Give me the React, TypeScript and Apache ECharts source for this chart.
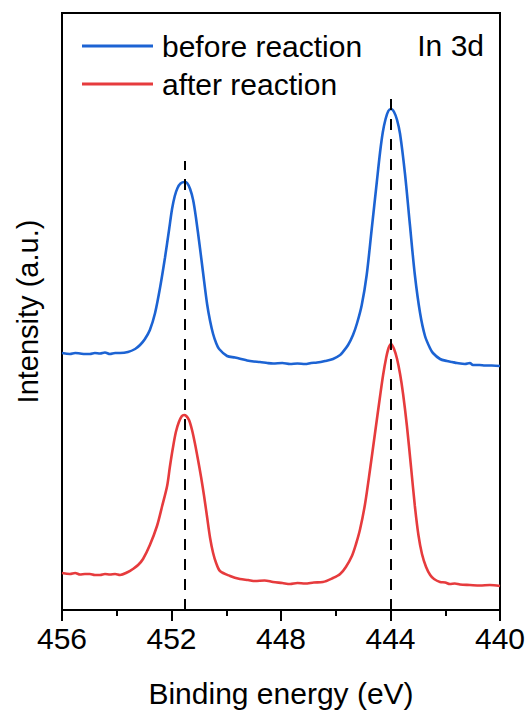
import React, { useEffect, useRef } from "react";
import * as echarts from "echarts";

// Binding energy (eV) and intensity (a.u.)
const energyBefore = [
  456.0, 455.71, 455.52, 455.34, 455.16, 454.98, 454.8, 454.61, 454.43, 454.25, 454.06, 453.88, 453.59, 453.33, 453.15,
  452.97, 452.79, 452.6, 452.42, 452.24, 452.09, 451.98, 451.88, 451.78, 451.67, 451.53, 451.43, 451.32, 451.21,
  451.11, 450.96, 450.85, 450.7, 450.59, 450.48, 450.37, 450.26, 449.97, 449.68, 449.45, 449.24, 449.0, 448.77, 448.5,
  448.29, 447.95, 447.67, 447.4, 447.12, 446.9, 446.68, 446.39, 446.1, 445.84, 445.74, 445.55, 445.37, 445.22,
  445.05, 444.87, 444.69, 444.5, 444.38, 444.28, 444.18, 444.08, 443.98, 443.87, 443.76, 443.65, 443.47, 443.29,
  443.11, 442.92, 442.74, 442.56, 442.45, 442.19, 441.94, 441.75, 441.57, 441.28, 441.1, 440.99, 440.75, 440.55,
  440.3, 440.0,
];
const intensityBefore = [
  257, 256, 257, 256.5, 256, 256, 257, 256.5, 257.5, 256, 257, 257, 258, 261, 265,
  271, 280, 297, 322, 352, 380, 401, 414, 422, 426.5, 428, 427, 421, 410,
  393, 362, 338, 306, 289, 276, 267, 261, 254, 252.5, 251, 249.5, 248.5, 248, 247,
  246.5, 247, 246, 246.5, 246, 247, 247.5, 249, 251, 255, 258, 265, 275, 287,
  305, 335, 380, 428, 458, 478, 491, 499, 501, 498, 490, 476, 436, 385,
  335, 297, 274, 262, 257, 251, 249, 248, 247, 246, 247, 245, 245, 244.5,
  244.5, 244,
];

const energyAfter = [
  456.0, 455.71, 455.52, 455.34, 455.16, 454.98, 454.8, 454.61, 454.43, 454.25, 454.06, 453.88, 453.59, 453.41, 453.22,
  453.04, 452.79, 452.53, 452.35, 452.16, 452.06, 451.95, 451.84, 451.73, 451.62, 451.54, 451.46, 451.36, 451.25,
  451.14, 451.03, 450.92, 450.81, 450.7, 450.59, 450.48, 450.37, 450.23, 449.86, 449.5, 449.2, 448.95, 448.6, 448.29,
  447.95, 447.67, 447.4, 447.12, 446.8, 446.47, 446.1, 445.84, 445.63, 445.41, 445.26, 445.11, 444.93, 444.75,
  444.57, 444.38, 444.27, 444.16, 444.07, 443.98, 443.87, 443.76, 443.65, 443.54, 443.4, 443.25, 443.11, 442.98,
  442.85, 442.7, 442.55, 442.41, 442.19, 442.0, 441.83, 441.65, 441.46, 441.1, 440.73, 440.37, 440.0,
];
const intensityAfter = [
  37, 36, 37, 35.5, 36, 36, 35, 35, 36, 35.5, 36, 35, 38, 41, 45,
  51, 65, 84, 103, 124, 143, 162, 178, 188, 194, 195, 194, 190, 180,
  166, 150, 133, 114, 93, 72, 57, 47, 39, 34, 31, 30, 29, 29.5, 28,
  27, 26, 27, 26.5, 27.5, 28, 32, 36, 43, 54, 66, 81, 106, 140,
  176, 214, 235, 252, 262, 266, 261, 251, 236, 216, 184, 143, 104, 75,
  56, 43, 35, 31, 28, 27.5, 26, 26.5, 25.5, 25, 24.5, 25, 24,
];

// Peak positions (dashed guides) and their upper ends
const peakPositions = [451.53, 443.98];
const peakGuideTops = [449, 516];

const xTickValues = [440, 444, 448, 452, 456];
const seriesNames = ["before reaction", "after reaction"];
const seriesColors = ["#1c63d3", "#e63b3d"];

const FONT = "Arial, 'Liberation Sans', Helvetica, sans-serif";

export default function App() {
  const ref = useRef<HTMLDivElement>(null);

  useEffect(() => {
    if (!ref.current) return;
    const chart = echarts.init(ref.current, undefined, { renderer: "svg" });

    const before = energyBefore.map((e, i) => [e, intensityBefore[i]]);
    const after = energyAfter.map((e, i) => [e, intensityAfter[i]]);

    chart.setOption({
      animation: false,
      backgroundColor: "#ffffff",
      textStyle: { fontFamily: FONT },
      grid: {
        left: 62,
        right: 29,
        top: 13,
        bottom: 103,
        show: true,
        borderColor: "#000",
        borderWidth: 2,
        backgroundColor: "transparent",
      },
      legend: {
        data: seriesNames,
        orient: "vertical",
        left: 82,
        top: 31,
        padding: 0,
        icon: "rect",
        itemWidth: 71,
        itemHeight: 3,
        itemGap: 8,
        textStyle: {
          fontSize: 30,
          color: "#000",
          fontFamily: FONT,
          padding: [0, 0, 0, 4],
        },
      },
      graphic: [
        {
          type: "text",
          right: 45,
          top: 30,
          style: {
            text: "In 3d",
            fontSize: 30,
            fill: "#000",
            fontFamily: FONT,
          },
        },
      ],
      xAxis: {
        type: "value",
        min: 440,
        max: 456,
        interval: 4,
        inverse: true,
        name: "Binding energy (eV)",
        nameLocation: "middle",
        nameGap: 68,
        nameTextStyle: { fontSize: 30, color: "#000", fontFamily: FONT },
        axisLine: { show: true, lineStyle: { color: "#000", width: 2 } },
        axisTick: { show: true, inside: false, length: 11, lineStyle: { color: "#000", width: 2 } },
        minorTick: { show: true, splitNumber: 2, length: 6, lineStyle: { color: "#000", width: 2 } },
        axisLabel: {
          fontSize: 30,
          color: "#000",
          fontFamily: FONT,
          margin: 13,
          customValues: xTickValues,
        },
        splitLine: { show: false },
      },
      yAxis: {
        type: "value",
        min: 0,
        max: 597,
        name: "Intensity (a.u.)",
        nameLocation: "middle",
        nameGap: 20,
        nameTextStyle: { fontSize: 29, color: "#000", fontFamily: FONT },
        axisLine: { show: true, lineStyle: { color: "#000", width: 2 } },
        axisTick: { show: false },
        axisLabel: { show: false },
        splitLine: { show: false },
      },
      series: [
        {
          name: seriesNames[0],
          type: "line",
          data: before,
          symbol: "none",
          smooth: 0.3,
          lineStyle: { color: seriesColors[0], width: 2.6 },
          itemStyle: { color: seriesColors[0] },
          z: 2,
          markLine: {
            silent: true,
            symbol: ["none", "none"],
            label: { show: false },
            lineStyle: { color: "#000", width: 2, type: [11, 9] },
            z: 5,
            data: peakPositions.map((p, i) => [
              { coord: [p, 0] },
              { coord: [p, peakGuideTops[i]] },
            ]),
          },
        },
        {
          name: seriesNames[1],
          type: "line",
          data: after,
          symbol: "none",
          smooth: 0.3,
          lineStyle: { color: seriesColors[1], width: 2.6 },
          itemStyle: { color: seriesColors[1] },
          z: 2,
        },
      ],
    });

    return () => chart.dispose();
  }, []);

  return (
    <div
      ref={ref}
      style={{ position: "fixed", left: 0, top: 0, width: 529, height: 713, background: "#fff" }}
    />
  );
}
